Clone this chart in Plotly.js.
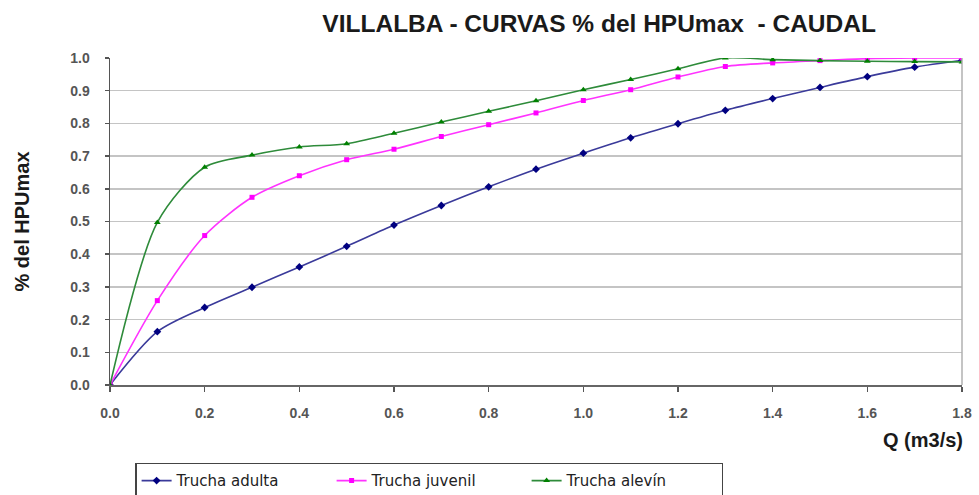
<!DOCTYPE html>
<html>
<head>
<meta charset="utf-8">
<script src="https://cdn.plot.ly/plotly-3.0.1.min.js"></script>
<style>html,body{margin:0;padding:0;background:#fff;}#chart{width:979px;height:495px;}</style>
</head>
<body>
<div id="chart"></div>
<script>
const caudal = [0.0, 0.1, 0.2, 0.3, 0.4, 0.5, 0.6, 0.7, 0.8, 0.9, 1.0, 1.1, 1.2, 1.3, 1.4, 1.5, 1.6, 1.7, 1.8];
const truchaAdulta = [0.0, 0.163, 0.237, 0.299, 0.361, 0.424, 0.489, 0.549, 0.606, 0.660, 0.709, 0.756, 0.799, 0.840, 0.876, 0.910, 0.943, 0.972, 0.993];
const truchaJuvenil = [0.0, 0.258, 0.457, 0.574, 0.640, 0.689, 0.721, 0.760, 0.796, 0.832, 0.870, 0.903, 0.942, 0.974, 0.985, 0.992, 0.998, 1.0, 1.0];
const truchaAlevin = [0.0, 0.497, 0.666, 0.703, 0.728, 0.738, 0.770, 0.804, 0.837, 0.869, 0.903, 0.934, 0.967, 1.0, 0.995, 0.992, 0.990, 0.989, 0.988];
const seriesNames = ['Trucha adulta', 'Trucha juvenil', 'Trucha alevín'];
const xTicks = [0.0, 0.2, 0.4, 0.6, 0.8, 1.0, 1.2, 1.4, 1.6, 1.8];
const yTicks = [0.0, 0.1, 0.2, 0.3, 0.4, 0.5, 0.6, 0.7, 0.8, 0.9, 1.0];

const font = 'Liberation Sans, Arial, sans-serif';
function tr(y, name, lineColor, mColor, sym, msize) {
  return {
    x: caudal, y: y, name: name, type: 'scatter', mode: 'lines+markers',
    line: {color: lineColor, width: 1.6, shape: 'spline', smoothing: 0.8},
    marker: {color: mColor, symbol: sym, size: msize}
  };
}
const data = [
  tr(truchaAdulta, seriesNames[0], '#3a3a9a', '#000080', 'diamond', 6),
  tr(truchaJuvenil, seriesNames[1], '#ff33ff', '#ff00ff', 'square', 5),
  tr(truchaAlevin, seriesNames[2], '#2e8b3a', '#008000', 'triangle-up', 6)
];
const tickFont = {family: font, size: 14, color: '#555', weight: 'bold'};
const layout = {
  width: 979, height: 495,
  margin: {l: 110, r: 17, t: 58, b: 110},
  paper_bgcolor: '#fff', plot_bgcolor: '#fff',
  font: {family: font, color: '#222', size: 13},
  title: {text: '<b>VILLALBA - CURVAS % del HPUmax  - CAUDAL</b>', x: 0.612, xanchor: 'center', y: 0.953, yanchor: 'middle', font: {family: font, size: 24.5, color: '#1a1a1a'}},
  xaxis: {range: [0, 1.8], tickvals: xTicks, ticktext: xTicks.map(v => v.toFixed(1)), ticks: 'outside', ticklen: 5, tickwidth: 1.5, tickcolor: '#555', ticklabelstandoff: 10, showgrid: false, zeroline: false, showline: true, linecolor: '#666', linewidth: 1.5, tickfont: tickFont, fixedrange: true, automargin: false},
  yaxis: {range: [0, 1.0], tickvals: yTicks, ticktext: yTicks.map(v => v.toFixed(1)), ticks: 'outside', ticklen: 4, tickwidth: 1.5, tickcolor: '#555', ticklabelstandoff: 12, showgrid: true, gridcolor: '#c4c4c4', gridwidth: 1.5, zeroline: false, showline: true, linecolor: '#555', linewidth: 1.5, tickfont: tickFont, fixedrange: true, automargin: false,
    title: {text: '<b>% del HPUmax</b>', font: {size: 20, color: '#1a1a1a'}, standoff: 35}},
  shapes: [{type: 'line', xref: 'paper', yref: 'paper', x0: 1, x1: 1, y0: 0, y1: 1, line: {color: '#b0b0b0', width: 1.5}}],
  annotations: [{text: '<b>Q (m3/s)</b>', xref: 'paper', yref: 'paper', x: 1.003, y: -0.168, xanchor: 'right', yanchor: 'middle', showarrow: false, font: {size: 20, color: '#1a1a1a'}}],
  legend: {orientation: 'h', xref: 'container', yref: 'container', x: 0.138, xanchor: 'left', y: 0.065, yanchor: 'top', bordercolor: '#444', borderwidth: 1.5, bgcolor: '#fff', font: {family: 'DejaVu Sans, sans-serif', size: 15, color: '#222'}, entrywidth: 150, entrywidthmode: 'pixels', tracegroupgap: 0},
  showlegend: true
};
Plotly.newPlot('chart', data, layout, {displayModeBar: false, staticPlot: true});
</script>
</body>
</html>
